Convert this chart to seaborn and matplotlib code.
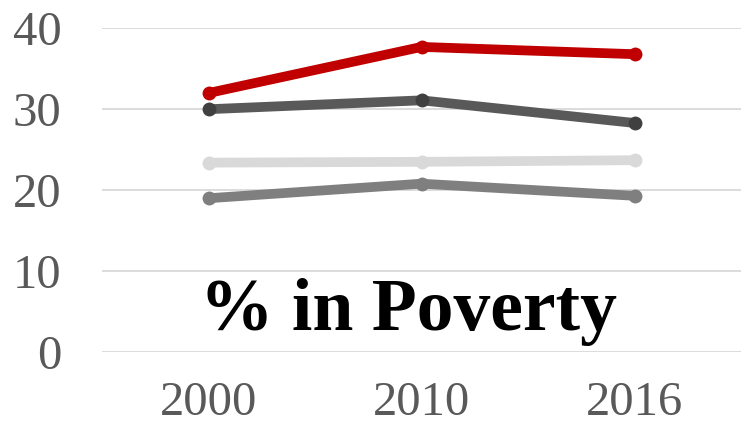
import matplotlib
matplotlib.use("Agg")
import matplotlib.pyplot as plt
import seaborn as sns
import pandas as pd

# Poverty rate (%) by year for four groups
years = ["2000", "2010", "2016"]
group_red = [32.0, 37.7, 36.8]
group_dark = [30.0, 31.1, 28.3]
group_light = [23.4, 23.5, 23.7]
group_mid = [19.0, 20.8, 19.3]
y_ticks = [0, 10, 20, 30, 40]

sns.set_theme(style="white")
plt.rcParams["font.family"] = ["Liberation Serif", "DejaVu Serif"]

fig = plt.figure(figsize=(7.41, 4.28), dpi=100)
ax = fig.add_axes([102 / 741, 1 - 352 / 428, 1 - 102 / 741, (352 - 28.3) / 428])

series = [
    (group_light, "#D9D9D9", "#D9D9D9"),
    (group_mid, "#7F7F7F", "#7F7F7F"),
    (group_dark, "#595959", "#404040"),
    (group_red, "#C00000", "#C00000"),
]
for vals, lc, mc in series:
    df = pd.DataFrame({"year": years, "pct": vals})
    sns.lineplot(data=df, x="year", y="pct", ax=ax, color=lc, lw=7,
                 marker="o", markersize=10, markerfacecolor=mc,
                 markeredgecolor=mc, markeredgewidth=0, legend=False)

ax.set_ylim(0, 40)
ax.set_xlim(-0.5, 2.5)
ax.set_yticks(y_ticks)
ax.yaxis.grid(True, color="#D9D9D9", lw=1.3)
ax.set_axisbelow(True)
for s in ax.spines.values():
    s.set_visible(False)
ax.set_xlabel("")
ax.set_ylabel("")
ax.tick_params(axis="y", length=0, pad=29, labelsize=35, labelcolor="#595959")
ax.tick_params(axis="x", length=0, pad=21, labelsize=35, labelcolor="#595959")

ax.text(0.94, 2.75, "% in Poverty", ha="center", va="baseline",
        fontsize=53, fontweight="bold", color="black")

fig.savefig("out.png", dpi=100)
